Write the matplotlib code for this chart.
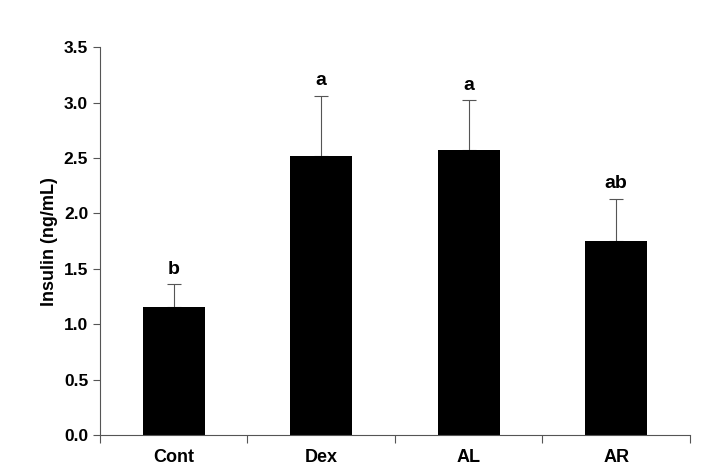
import matplotlib.pyplot as plt
import numpy as np

groups = ["Cont", "Dex", "AL", "AR"]
insulin = [1.16, 2.52, 2.57, 1.75]
sem = [0.20, 0.54, 0.45, 0.38]
letters = ["b", "a", "a", "ab"]

plt.rcParams['font.family'] = ['Liberation Sans', 'DejaVu Sans']
fig, ax = plt.subplots(figsize=(7.04, 4.72), dpi=100)
fig.subplots_adjust(left=0.142, right=0.98, top=0.9, bottom=0.078)

x = np.arange(len(groups))
ax.bar(x, insulin, width=0.42, color="black", zorder=2)
ax.errorbar(x, insulin, yerr=[np.zeros(len(sem)), sem], fmt="none",
            ecolor="#555555", elinewidth=0.8, capsize=5, capthick=0.8, zorder=1)
for xi, v, e, t in zip(x, insulin, sem, letters):
    ax.text(xi, v + e + 0.06, t, ha="center", va="bottom", fontsize=14, fontweight="bold")

ax.set_xlim(-0.5, len(groups) - 0.5)
ax.set_ylim(0, 3.5)
ax.set_yticks(np.arange(0, 3.51, 0.5))
ax.set_yticklabels([f"{v:.1f}" for v in np.arange(0, 3.51, 0.5)], fontsize=12.5, fontweight="bold")
ax.set_xticks(np.arange(-0.5, len(groups), 1.0))
ax.set_xticklabels([])
ax.set_xticks(x, minor=True)
ax.set_xticklabels(groups, minor=True, fontsize=13, fontweight="bold")
ax.tick_params(axis="x", which="minor", length=0, pad=10)
ax.tick_params(axis="x", which="major", direction="out", length=6, color="#555555")
ax.tick_params(axis="y", direction="out", length=5, color="#555555")
ax.set_ylabel("Insulin (ng/mL)", fontsize=13, fontweight="bold")
for s in ["top", "right"]:
    ax.spines[s].set_visible(False)
for s in ["left", "bottom"]:
    ax.spines[s].set_color("#555555")
    ax.spines[s].set_linewidth(0.8)

fig.savefig("out.png", dpi=100)
